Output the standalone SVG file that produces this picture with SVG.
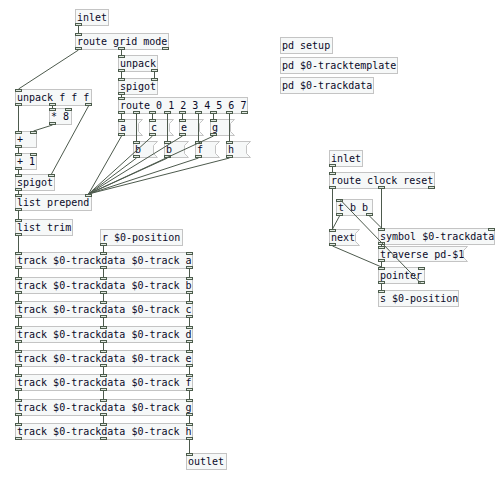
<svg xmlns="http://www.w3.org/2000/svg" width="501" height="478" viewBox="0 0 501 478">
<style>
.b{fill:#f6f8f8;stroke:#c4c4c4;stroke-width:1}
.io{fill:#e2e9e2;stroke:#4d5d4d;stroke-width:1}
.w line{stroke:#4d5a4d;stroke-width:1}
text{font-family:"DejaVu Sans Mono",monospace;font-size:10px;fill:#0a0a28}
</style>
<rect width="501" height="478" fill="#ffffff"/>
<g id="inlet1"><rect class="b" x="75.5" y="9.5" width="33" height="16"/><rect class="io" x="75.5" y="23.5" width="6" height="2"/><text x="77" y="21">inlet</text></g>
<g id="routeGM"><rect class="b" x="75.5" y="33.5" width="93" height="16"/><rect class="io" x="75.5" y="33.5" width="6" height="2"/><rect class="io" x="75.5" y="47.5" width="6" height="2"/><rect class="io" x="118.5" y="47.5" width="6" height="2"/><rect class="io" x="162.5" y="47.5" width="6" height="2"/><text x="77" y="45">route grid mode</text></g>
<g id="unpackR"><rect class="b" x="118.5" y="55.5" width="39" height="16"/><rect class="io" x="118.5" y="55.5" width="6" height="2"/><rect class="io" x="118.5" y="69.5" width="6" height="2"/><rect class="io" x="151.5" y="69.5" width="6" height="2"/><text x="120" y="67">unpack</text></g>
<g id="spigotR"><rect class="b" x="118.5" y="78.5" width="39" height="16"/><rect class="io" x="118.5" y="78.5" width="6" height="2"/><rect class="io" x="151.5" y="78.5" width="6" height="2"/><rect class="io" x="118.5" y="92.5" width="6" height="2"/><text x="120" y="90">spigot</text></g>
<g id="route07"><rect class="b" x="118.5" y="97.5" width="129" height="16"/><rect class="io" x="118.5" y="97.5" width="6" height="2"/><rect class="io" x="118.5" y="111.5" width="6" height="2"/><rect class="io" x="133.5" y="111.5" width="6" height="2"/><rect class="io" x="149.5" y="111.5" width="6" height="2"/><rect class="io" x="164.5" y="111.5" width="6" height="2"/><rect class="io" x="179.5" y="111.5" width="6" height="2"/><rect class="io" x="195.5" y="111.5" width="6" height="2"/><rect class="io" x="210.5" y="111.5" width="6" height="2"/><rect class="io" x="226.5" y="111.5" width="6" height="2"/><rect class="io" x="241.5" y="111.5" width="6" height="2"/><text x="120" y="109">route 0 1 2 3 4 5 6 7</text></g>
<g id="msgA"><path class="b" d="M118.5 119.5H142.5L138.5 123.5V131.5L142.5 135.5H118.5Z"/><rect class="io" x="118.5" y="119.5" width="6" height="2"/><rect class="io" x="118.5" y="133.5" width="6" height="2"/><text x="120" y="131">a</text></g>
<g id="msgC"><path class="b" d="M149.5 119.5H173.5L169.5 123.5V131.5L173.5 135.5H149.5Z"/><rect class="io" x="149.5" y="119.5" width="6" height="2"/><rect class="io" x="149.5" y="133.5" width="6" height="2"/><text x="151" y="131">c</text></g>
<g id="msgE"><path class="b" d="M179.5 119.5H203.5L199.5 123.5V131.5L203.5 135.5H179.5Z"/><rect class="io" x="179.5" y="119.5" width="6" height="2"/><rect class="io" x="179.5" y="133.5" width="6" height="2"/><text x="181" y="131">e</text></g>
<g id="msgG"><path class="b" d="M210.5 119.5H234.5L230.5 123.5V131.5L234.5 135.5H210.5Z"/><rect class="io" x="210.5" y="119.5" width="6" height="2"/><rect class="io" x="210.5" y="133.5" width="6" height="2"/><text x="212" y="131">g</text></g>
<g id="msgB1"><path class="b" d="M133.5 141.5H157.5L153.5 145.5V153.5L157.5 157.5H133.5Z"/><rect class="io" x="133.5" y="141.5" width="6" height="2"/><rect class="io" x="133.5" y="155.5" width="6" height="2"/><text x="135" y="153">b</text></g>
<g id="msgB2"><path class="b" d="M164.5 141.5H188.5L184.5 145.5V153.5L188.5 157.5H164.5Z"/><rect class="io" x="164.5" y="141.5" width="6" height="2"/><rect class="io" x="164.5" y="155.5" width="6" height="2"/><text x="166" y="153">b</text></g>
<g id="msgF"><path class="b" d="M195.5 141.5H219.5L215.5 145.5V153.5L219.5 157.5H195.5Z"/><rect class="io" x="195.5" y="141.5" width="6" height="2"/><rect class="io" x="195.5" y="155.5" width="6" height="2"/><text x="197" y="153">f</text></g>
<g id="msgH"><path class="b" d="M226.5 141.5H250.5L246.5 145.5V153.5L250.5 157.5H226.5Z"/><rect class="io" x="226.5" y="141.5" width="6" height="2"/><rect class="io" x="226.5" y="155.5" width="6" height="2"/><text x="228" y="153">h</text></g>
<g id="unpackF"><rect class="b" x="15.5" y="89.5" width="76" height="16"/><rect class="io" x="15.5" y="89.5" width="6" height="2"/><rect class="io" x="15.5" y="103.5" width="6" height="2"/><rect class="io" x="49.5" y="103.5" width="6" height="2"/><rect class="io" x="85.5" y="103.5" width="6" height="2"/><text x="17" y="101">unpack f f f</text></g>
<g id="mul8"><rect class="b" x="49.5" y="108.5" width="22" height="16"/><rect class="io" x="49.5" y="108.5" width="6" height="2"/><rect class="io" x="65.5" y="108.5" width="6" height="2"/><rect class="io" x="49.5" y="122.5" width="6" height="2"/><text x="51" y="120">* 8</text></g>
<g id="plus"><rect class="b" x="15.5" y="131.5" width="21" height="16"/><rect class="io" x="15.5" y="131.5" width="6" height="2"/><rect class="io" x="30.5" y="131.5" width="6" height="2"/><rect class="io" x="15.5" y="145.5" width="6" height="2"/><text x="17" y="143">+</text></g>
<g id="plus1"><rect class="b" x="15.5" y="153.5" width="21" height="16"/><rect class="io" x="15.5" y="153.5" width="6" height="2"/><rect class="io" x="30.5" y="153.5" width="6" height="2"/><rect class="io" x="15.5" y="167.5" width="6" height="2"/><text x="17" y="165">+ 1</text></g>
<g id="spigotL"><rect class="b" x="15.5" y="174.5" width="39" height="16"/><rect class="io" x="15.5" y="174.5" width="6" height="2"/><rect class="io" x="48.5" y="174.5" width="6" height="2"/><rect class="io" x="15.5" y="188.5" width="6" height="2"/><text x="17" y="186">spigot</text></g>
<g id="listPrepend"><rect class="b" x="15.5" y="194.5" width="76" height="16"/><rect class="io" x="15.5" y="194.5" width="6" height="2"/><rect class="io" x="85.5" y="194.5" width="6" height="2"/><rect class="io" x="15.5" y="208.5" width="6" height="2"/><text x="17" y="206">list prepend</text></g>
<g id="listTrim"><rect class="b" x="15.5" y="219.5" width="57" height="16"/><rect class="io" x="15.5" y="219.5" width="6" height="2"/><rect class="io" x="15.5" y="233.5" width="6" height="2"/><text x="17" y="231">list trim</text></g>
<g id="rpos"><rect class="b" x="100.5" y="229.5" width="82" height="16"/><rect class="io" x="100.5" y="243.5" width="6" height="2"/><text x="102" y="241">r $0-position</text></g>
<g id="trackA"><rect class="b" x="15.5" y="252.5" width="177" height="16"/><rect class="io" x="15.5" y="252.5" width="6" height="2"/><rect class="io" x="100.5" y="252.5" width="6" height="2"/><rect class="io" x="186.5" y="252.5" width="6" height="2"/><rect class="io" x="15.5" y="266.5" width="6" height="2"/><rect class="io" x="100.5" y="266.5" width="6" height="2"/><rect class="io" x="186.5" y="266.5" width="6" height="2"/><text x="17" y="264">track $0-trackdata $0-track a</text></g>
<g id="trackB"><rect class="b" x="15.5" y="277.5" width="177" height="16"/><rect class="io" x="15.5" y="277.5" width="6" height="2"/><rect class="io" x="100.5" y="277.5" width="6" height="2"/><rect class="io" x="186.5" y="277.5" width="6" height="2"/><rect class="io" x="15.5" y="291.5" width="6" height="2"/><rect class="io" x="100.5" y="291.5" width="6" height="2"/><rect class="io" x="186.5" y="291.5" width="6" height="2"/><text x="17" y="289">track $0-trackdata $0-track b</text></g>
<g id="trackC"><rect class="b" x="15.5" y="301.5" width="177" height="16"/><rect class="io" x="15.5" y="301.5" width="6" height="2"/><rect class="io" x="100.5" y="301.5" width="6" height="2"/><rect class="io" x="186.5" y="301.5" width="6" height="2"/><rect class="io" x="15.5" y="315.5" width="6" height="2"/><rect class="io" x="100.5" y="315.5" width="6" height="2"/><rect class="io" x="186.5" y="315.5" width="6" height="2"/><text x="17" y="313">track $0-trackdata $0-track c</text></g>
<g id="trackD"><rect class="b" x="15.5" y="326.5" width="177" height="16"/><rect class="io" x="15.5" y="326.5" width="6" height="2"/><rect class="io" x="100.5" y="326.5" width="6" height="2"/><rect class="io" x="186.5" y="326.5" width="6" height="2"/><rect class="io" x="15.5" y="340.5" width="6" height="2"/><rect class="io" x="100.5" y="340.5" width="6" height="2"/><rect class="io" x="186.5" y="340.5" width="6" height="2"/><text x="17" y="338">track $0-trackdata $0-track d</text></g>
<g id="trackE"><rect class="b" x="15.5" y="350.5" width="177" height="16"/><rect class="io" x="15.5" y="350.5" width="6" height="2"/><rect class="io" x="100.5" y="350.5" width="6" height="2"/><rect class="io" x="186.5" y="350.5" width="6" height="2"/><rect class="io" x="15.5" y="364.5" width="6" height="2"/><rect class="io" x="100.5" y="364.5" width="6" height="2"/><rect class="io" x="186.5" y="364.5" width="6" height="2"/><text x="17" y="362">track $0-trackdata $0-track e</text></g>
<g id="trackF"><rect class="b" x="15.5" y="374.5" width="177" height="16"/><rect class="io" x="15.5" y="374.5" width="6" height="2"/><rect class="io" x="100.5" y="374.5" width="6" height="2"/><rect class="io" x="186.5" y="374.5" width="6" height="2"/><rect class="io" x="15.5" y="388.5" width="6" height="2"/><rect class="io" x="100.5" y="388.5" width="6" height="2"/><rect class="io" x="186.5" y="388.5" width="6" height="2"/><text x="17" y="386">track $0-trackdata $0-track f</text></g>
<g id="trackG"><rect class="b" x="15.5" y="399.5" width="177" height="16"/><rect class="io" x="15.5" y="399.5" width="6" height="2"/><rect class="io" x="100.5" y="399.5" width="6" height="2"/><rect class="io" x="186.5" y="399.5" width="6" height="2"/><rect class="io" x="15.5" y="413.5" width="6" height="2"/><rect class="io" x="100.5" y="413.5" width="6" height="2"/><rect class="io" x="186.5" y="413.5" width="6" height="2"/><text x="17" y="411">track $0-trackdata $0-track g</text></g>
<g id="trackH"><rect class="b" x="15.5" y="423.5" width="177" height="16"/><rect class="io" x="15.5" y="423.5" width="6" height="2"/><rect class="io" x="100.5" y="423.5" width="6" height="2"/><rect class="io" x="186.5" y="423.5" width="6" height="2"/><rect class="io" x="15.5" y="437.5" width="6" height="2"/><rect class="io" x="100.5" y="437.5" width="6" height="2"/><rect class="io" x="186.5" y="437.5" width="6" height="2"/><text x="17" y="435">track $0-trackdata $0-track h</text></g>
<g id="outlet1"><rect class="b" x="186.5" y="453.5" width="40" height="16"/><rect class="io" x="186.5" y="453.5" width="6" height="2"/><text x="188" y="465">outlet</text></g>
<g id="pdSetup"><rect class="b" x="280.5" y="37.5" width="52" height="16"/><text x="282" y="49">pd setup</text></g>
<g id="pdTracktemplate"><rect class="b" x="280.5" y="57.5" width="117" height="16"/><text x="282" y="69">pd $0-tracktemplate</text></g>
<g id="pdTrackdata"><rect class="b" x="280.5" y="77.5" width="93" height="16"/><text x="282" y="89">pd $0-trackdata</text></g>
<g id="inlet2"><rect class="b" x="329.5" y="150.5" width="33" height="16"/><rect class="io" x="329.5" y="164.5" width="6" height="2"/><text x="331" y="162">inlet</text></g>
<g id="routeCR"><rect class="b" x="329.5" y="172.5" width="105" height="16"/><rect class="io" x="329.5" y="172.5" width="6" height="2"/><rect class="io" x="329.5" y="186.5" width="6" height="2"/><rect class="io" x="378.5" y="186.5" width="6" height="2"/><rect class="io" x="428.5" y="186.5" width="6" height="2"/><text x="331" y="184">route clock reset</text></g>
<g id="tbb"><rect class="b" x="336.5" y="199.5" width="36" height="16"/><rect class="io" x="336.5" y="199.5" width="6" height="2"/><rect class="io" x="336.5" y="213.5" width="6" height="2"/><rect class="io" x="366.5" y="213.5" width="6" height="2"/><text x="338" y="211">t b b</text></g>
<g id="msgNext"><path class="b" d="M329.5 229.5H359.5L355.5 233.5V241.5L359.5 245.5H329.5Z"/><rect class="io" x="329.5" y="229.5" width="6" height="2"/><rect class="io" x="329.5" y="243.5" width="6" height="2"/><text x="331" y="241">next</text></g>
<g id="symbol"><rect class="b" x="378.5" y="228.5" width="116" height="16"/><rect class="io" x="378.5" y="228.5" width="6" height="2"/><rect class="io" x="488.5" y="228.5" width="6" height="2"/><rect class="io" x="378.5" y="242.5" width="6" height="2"/><text x="380" y="240">symbol $0-trackdata</text></g>
<g id="msgTraverse"><path class="b" d="M378.5 246.5H467.5L463.5 250.5V257.5L467.5 261.5H378.5Z"/><rect class="io" x="378.5" y="246.5" width="6" height="2"/><rect class="io" x="378.5" y="259.5" width="6" height="2"/><text x="380" y="258">traverse pd-$1</text></g>
<g id="pointer"><rect class="b" x="378.5" y="267.5" width="46" height="16"/><rect class="io" x="378.5" y="267.5" width="6" height="2"/><rect class="io" x="418.5" y="267.5" width="6" height="2"/><rect class="io" x="378.5" y="281.5" width="6" height="2"/><rect class="io" x="418.5" y="281.5" width="6" height="2"/><text x="380" y="279">pointer</text></g>
<g id="spos"><rect class="b" x="378.5" y="290.5" width="80" height="16"/><rect class="io" x="378.5" y="290.5" width="6" height="2"/><text x="380" y="302">s $0-position</text></g>
<g id="connectors" class="w">
<line x1="78.5" y1="26" x2="78.5" y2="33"/>
<line x1="78.5" y1="50" x2="18.5" y2="89"/>
<line x1="121.5" y1="50" x2="121.5" y2="55"/>
<line x1="121.5" y1="72" x2="121.5" y2="78"/>
<line x1="154.5" y1="72" x2="154.5" y2="78"/>
<line x1="121.5" y1="95" x2="121.5" y2="97"/>
<line x1="121.5" y1="114" x2="121.5" y2="119"/>
<line x1="152.5" y1="114" x2="152.5" y2="119"/>
<line x1="182.5" y1="114" x2="182.5" y2="119"/>
<line x1="213.5" y1="114" x2="213.5" y2="119"/>
<line x1="136.5" y1="114" x2="136.5" y2="141"/>
<line x1="167.5" y1="114" x2="167.5" y2="141"/>
<line x1="198.5" y1="114" x2="198.5" y2="141"/>
<line x1="229.5" y1="114" x2="229.5" y2="141"/>
<line x1="121.5" y1="136" x2="88.5" y2="194"/>
<line x1="152.5" y1="136" x2="88.5" y2="194"/>
<line x1="182.5" y1="136" x2="88.5" y2="194"/>
<line x1="213.5" y1="136" x2="88.5" y2="194"/>
<line x1="136.5" y1="158" x2="88.5" y2="194"/>
<line x1="167.5" y1="158" x2="88.5" y2="194"/>
<line x1="198.5" y1="158" x2="88.5" y2="194"/>
<line x1="229.5" y1="158" x2="88.5" y2="194"/>
<line x1="18.5" y1="106" x2="18.5" y2="131"/>
<line x1="52.5" y1="106" x2="52.5" y2="108"/>
<line x1="88.5" y1="106" x2="51.5" y2="174"/>
<line x1="52.5" y1="125" x2="33.5" y2="131"/>
<line x1="18.5" y1="148" x2="18.5" y2="153"/>
<line x1="18.5" y1="170" x2="18.5" y2="174"/>
<line x1="18.5" y1="191" x2="18.5" y2="194"/>
<line x1="18.5" y1="211" x2="18.5" y2="219"/>
<line x1="18.5" y1="236" x2="18.5" y2="252"/>
<line x1="103.5" y1="246" x2="103.5" y2="252"/>
<line x1="18.5" y1="269" x2="18.5" y2="277"/><line x1="103.5" y1="269" x2="103.5" y2="277"/><line x1="189.5" y1="269" x2="189.5" y2="277"/>
<line x1="18.5" y1="294" x2="18.5" y2="301"/><line x1="103.5" y1="294" x2="103.5" y2="301"/><line x1="189.5" y1="294" x2="189.5" y2="301"/>
<line x1="18.5" y1="318" x2="18.5" y2="326"/><line x1="103.5" y1="318" x2="103.5" y2="326"/><line x1="189.5" y1="318" x2="189.5" y2="326"/>
<line x1="18.5" y1="343" x2="18.5" y2="350"/><line x1="103.5" y1="343" x2="103.5" y2="350"/><line x1="189.5" y1="343" x2="189.5" y2="350"/>
<line x1="18.5" y1="367" x2="18.5" y2="374"/><line x1="103.5" y1="367" x2="103.5" y2="374"/><line x1="189.5" y1="367" x2="189.5" y2="374"/>
<line x1="18.5" y1="391" x2="18.5" y2="399"/><line x1="103.5" y1="391" x2="103.5" y2="399"/><line x1="189.5" y1="391" x2="189.5" y2="399"/>
<line x1="18.5" y1="416" x2="18.5" y2="423"/><line x1="103.5" y1="416" x2="103.5" y2="423"/><line x1="189.5" y1="416" x2="189.5" y2="423"/>
<line x1="189.5" y1="440" x2="189.5" y2="453"/>
<line x1="332.5" y1="167" x2="332.5" y2="172"/>
<line x1="332.5" y1="189" x2="332.5" y2="229"/>
<line x1="381.5" y1="189" x2="381.5" y2="228"/>
<line x1="339.5" y1="216" x2="332.5" y2="229"/>
<line x1="369.5" y1="216" x2="381.5" y2="228"/>
<line x1="421.5" y1="284" x2="339.5" y2="199"/>
<line x1="332.5" y1="246" x2="381.5" y2="267"/>
<line x1="381.5" y1="245" x2="381.5" y2="246"/>
<line x1="381.5" y1="262" x2="381.5" y2="267"/>
<line x1="381.5" y1="284" x2="381.5" y2="290"/>
</g>
</svg>
